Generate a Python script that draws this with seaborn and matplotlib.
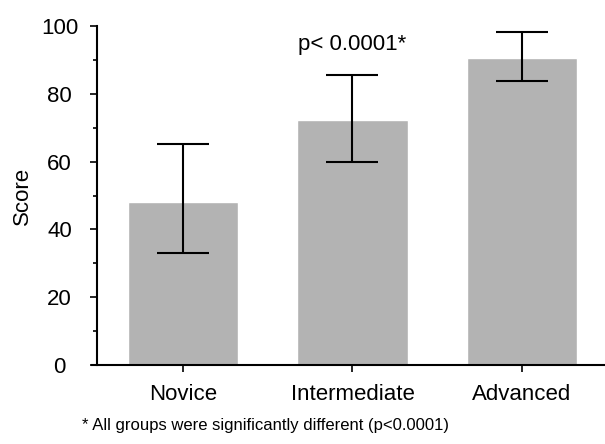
import matplotlib
matplotlib.use("Agg")
import matplotlib.pyplot as plt
import seaborn as sns
import numpy as np
from matplotlib.ticker import MultipleLocator

# values
groups = ["Novice", "Intermediate", "Advanced"]
means = [48.0, 72.3, 90.6]
err_low = [15.0, 12.4, 6.8]
err_high = [17.2, 13.2, 7.6]

sns.set_style("ticks")
plt.rcParams['font.family'] = ['Liberation Sans', 'DejaVu Sans']
plt.rcParams['text.color'] = "black"
plt.rcParams['axes.labelcolor'] = "black"

fig = plt.figure(figsize=(6.05, 4.44), dpi=100)
ax = fig.add_axes([92 / 605, 1 - 365 / 444, 513 / 605, 339 / 444])

sns.barplot(x=groups, y=means, color="#b3b3b3", saturation=1, width=0.65,
            errorbar=None, ax=ax)
ax.errorbar(np.arange(len(groups)), means, yerr=[err_low, err_high], fmt="none",
            ecolor="black", elinewidth=1.5, capsize=19, capthick=1.5)

ax.set_xlim(-0.537, 2.49)
ax.set_ylim(0, 100)
ax.yaxis.set_major_locator(MultipleLocator(20))
ax.yaxis.set_minor_locator(MultipleLocator(10))
ax.spines['left'].set_position(('data', -0.507))
ax.spines['right'].set_visible(False)
ax.spines['top'].set_visible(False)
for s in ['left', 'bottom']:
    ax.spines[s].set_linewidth(1.5)
    ax.spines[s].set_color("black")

ax.tick_params(axis='y', which='major', length=5, width=1.2, pad=22,
               labelsize=16, colors="black")
ax.tick_params(axis='y', which='minor', length=3, width=1.2, colors="black")
ax.tick_params(axis='x', length=5, width=1.2, pad=9, labelsize=16, colors="black")
for lab in ax.get_yticklabels():
    lab.set_horizontalalignment('center')

ax.set_ylabel("Score", fontsize=16, labelpad=6)
ax.set_xlabel("")

ax.text(1, 94.5, "p< 0.0001*", ha="center", va="center", fontsize=16)
fig.text(266 / 605, 1 - 425 / 444,
         "* All groups were significantly different (p<0.0001)",
         ha="center", va="center", fontsize=12)

fig.savefig("out.png", dpi=100)
